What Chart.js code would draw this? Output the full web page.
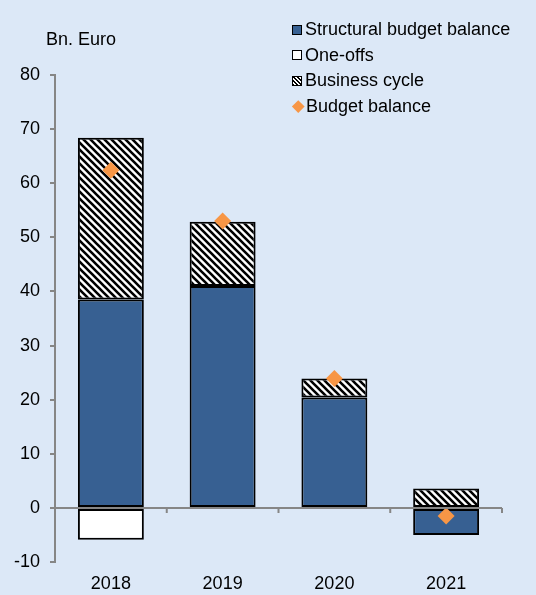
<!DOCTYPE html>
<html><head><meta charset="utf-8">
<script src="https://cdn.jsdelivr.net/npm/chart.js@4/dist/chart.umd.min.js"></script>
<style>
html,body{margin:0;padding:0;background:#dce8f7;}
#wrap{position:relative;width:536px;height:595px;background:#dce8f7;font-family:"Liberation Sans",Arial,sans-serif;color:#000;overflow:hidden;}
#c{position:absolute;left:0;top:0;}
#unit{position:absolute;left:46px;top:29px;font-size:18px;line-height:20px;}
#legend{position:absolute;left:292px;top:17px;font-size:18px;}
.item{display:flex;align-items:center;height:25.5px;}
.sw{width:10px;height:10px;box-sizing:border-box;border:1.5px solid #000;margin-right:3px;flex:none;}
.dia{width:8.5px;height:8.5px;background:#f79646;transform:rotate(45deg);margin:0 4px 0 1.5px;flex:none;}
</style></head>
<body>
<div id="wrap">
<canvas id="c" width="536" height="595"></canvas>
<div id="unit">Bn. Euro</div>
<div id="legend">
 <div class="item"><span class="sw" style="background:#376092"></span>Structural budget balance</div>
 <div class="item"><span class="sw" style="background:#fff"></span>One-offs</div>
 <div class="item"><span class="sw" style="background:repeating-linear-gradient(45deg,#000 0 1.4px,#fff 1.4px 2.8px)"></span>Business cycle</div>
 <div class="item"><span class="dia"></span>Budget balance</div>
</div>
</div>
<script>
const categories = ['2018', '2019', '2020', '2021'];
const structural = [38.5, 41.0, 20.4, -5.0];
const oneOffs = [-5.9, null, null, null];
const businessCycle = [29.9, 11.9, 3.5, 3.6];
const budgetBalance = [62.4, 53.0, 23.9, -1.5];
const yTicksMin = -10, yTicksMax = 80, yTicksStep = 10;

function hatch(){
  const s = 7;
  const c = document.createElement('canvas'); c.width = s; c.height = s;
  const g = c.getContext('2d');
  g.fillStyle = '#fff'; g.fillRect(0, 0, s, s);
  g.strokeStyle = '#000'; g.lineWidth = 2.6;
  g.beginPath();
  for (const k of [-s, 0, s]) { g.moveTo(k - 1, -1); g.lineTo(k + s + 1, s + 1); }
  g.stroke();
  return g.createPattern(c, 'repeat');
}

const font = {family: '"Liberation Sans", Arial, sans-serif', size: 18};
const axisColor = '#868686';

const zeroAxis = {
  id: 'zeroAxis',
  afterDatasetsDraw(chart){
    const {ctx, chartArea: a, scales: {x, y}} = chart;
    const y0 = y.getPixelForValue(0);
    ctx.save();
    ctx.strokeStyle = axisColor; ctx.lineWidth = 2;
    ctx.beginPath();
    ctx.moveTo(a.left, y0); ctx.lineTo(a.right, y0);
    const n = categories.length;
    for (let i = 0; i < n; i++) {
      const p = x.getPixelForValue(i);
      const q = i < n - 1 ? x.getPixelForValue(i + 1) : 2 * p - x.getPixelForValue(i - 1);
      const xb = (p + q) / 2;
      ctx.moveTo(xb, y0); ctx.lineTo(xb, y0 + 5);
    }
    ctx.stroke();
    ctx.restore();
  }
};

const barCommon = {borderColor: '#000', borderWidth: 2, borderSkipped: false, barPercentage: 0.59, categoryPercentage: 1, order: 1};

new Chart(document.getElementById('c'), {
  type: 'bar',
  data: {
    labels: categories,
    datasets: [
      Object.assign({label: 'Structural budget balance', data: structural, backgroundColor: '#376092'}, barCommon),
      Object.assign({label: 'One-offs', data: oneOffs, backgroundColor: '#ffffff'}, barCommon),
      Object.assign({label: 'Business cycle', data: businessCycle, backgroundColor: hatch()}, barCommon),
      {type: 'line', label: 'Budget balance', data: budgetBalance, showLine: false, stack: 'bb', order: 0,
       pointStyle: 'rectRot', pointRadius: 8.5, pointHoverRadius: 8.5, backgroundColor: '#f79646', borderColor: '#f79646', borderWidth: 0}
    ]
  },
  options: {
    responsive: false, animation: false, devicePixelRatio: 1,
    layout: {padding: {top: 75, right: 34, left: 0, bottom: 0}},
    plugins: {legend: {display: false}, tooltip: {enabled: false}},
    scales: {
      x: {stacked: true, grid: {display: false}, border: {display: false},
          ticks: {color: '#000', font: font, padding: 3},
          afterFit(s){ s.height = 33; }},
      y: {stacked: true, min: yTicksMin, max: yTicksMax,
          ticks: {stepSize: yTicksStep, color: '#000', font: font, padding: 10},
          grid: {drawOnChartArea: false, tickLength: 5, color: axisColor, lineWidth: 2},
          border: {color: axisColor, width: 2},
          afterFit(s){ s.width = 55; }}
    }
  },
  plugins: [zeroAxis]
});
</script>
</body></html>
